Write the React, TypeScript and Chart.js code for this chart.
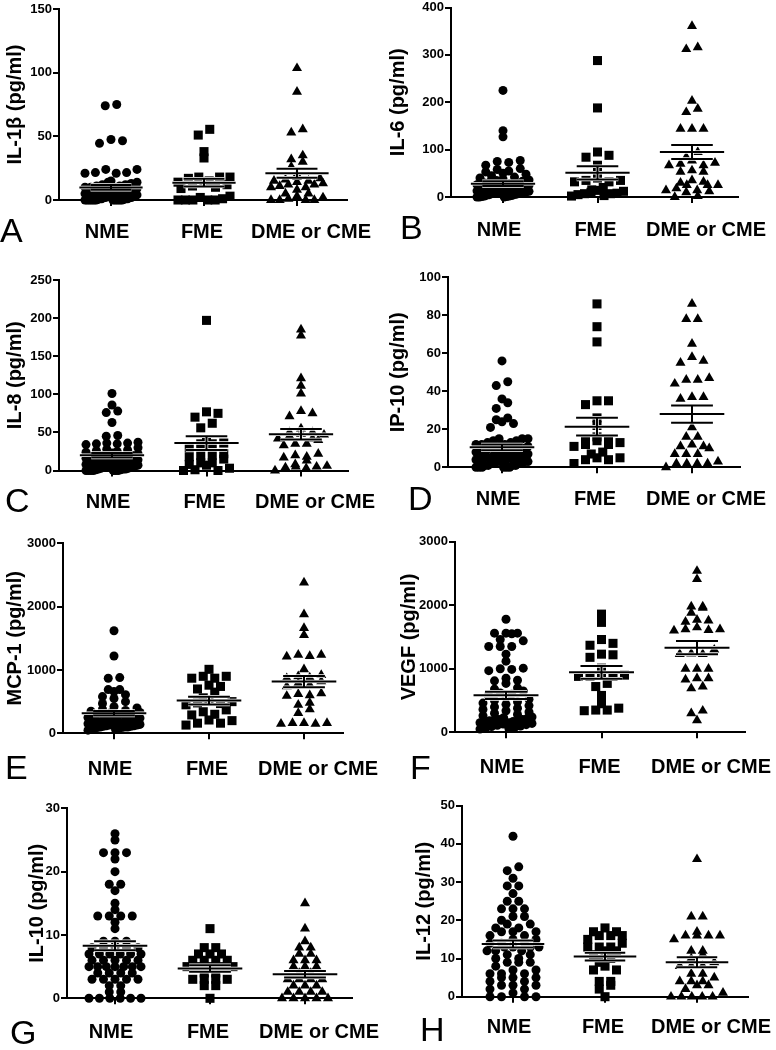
import React, { useEffect, useRef } from 'react';
import { Chart, registerables } from 'chart.js';

Chart.register(...registerables);
Chart.defaults.font.family = '"Liberation Sans", Arial, sans-serif';

// ---------- data ----------
const categories = ['NME', 'FME', 'DME or CME'];
const panelLetters = ['A', 'B', 'C', 'D', 'E', 'F', 'G', 'H'];
const yTitles = ['IL-1β (pg/ml)', 'IL-6 (pg/ml)', 'IL-8 (pg/ml)', 'IP-10 (pg/ml)', 'MCP-1 (pg/ml)', 'VEGF (pg/ml)', 'IL-10 (pg/ml)', 'IL-12 (pg/ml)'];
const yMaxes = [150, 400, 250, 100, 3000, 3000, 30, 50];
const yTickSteps = [50, 100, 50, 20, 1000, 1000, 10, 10];

const il1bNME = [75, 74, 47.5, 46.5, 44.5, 24, 24, 21.5, 21, 21, 21.5, 15, 14, 14, 13, 12, 12, 11, 11, 10, 10, 10, 9, 9, 8, 8, 8, 7, 7, 6, 6, 6, 5, 5, 5, 4, 4, 4, 3, 3, 3, 2, 2, 2, 2, 1, 1, 1, 1, 0.5, 0.5, 0, 0, 0, 0, 0, 0, 0, 0, 0, 0, 0, 0, 0];
const il1bFME = [55.5, 51, 38, 33, 18, 18, 18, 17, 15, 14, 13, 12, 11, 10, 9, 3, 2, 1, 0, 0, 0, 0, 0];
const il1bDME = [103.5, 85, 55.5, 53, 35, 32, 30, 26, 20, 18, 17, 16, 15, 15, 14, 13, 12, 12, 11, 10, 10, 8, 5, 5, 3, 2, 1, 0, 0, 0, 0];
const il1bMean = [9.9, 13.6, 21];
const il1bSem = [1.8, 3, 3.5];

const il6NME = [225, 140, 127, 77, 75, 73, 67, 60, 58, 55, 53, 50, 48, 45, 42, 40, 38, 36, 35, 33, 32, 30, 30, 28, 26, 25, 24, 22, 21, 20, 20, 19, 18, 17, 16, 15, 15, 14, 13, 12, 12, 11, 10, 10, 10, 9, 8, 8, 7, 6, 5, 5, 4, 3, 2, 2, 1, 1, 0, 0, 0];
const il6FME = [288, 188, 95, 88, 84, 67, 53, 40, 35, 35, 32, 32, 20, 15, 14, 12, 10, 8, 7, 7, 5, 3, 2];
const il6DME = [361, 316, 312, 203, 186, 179, 144, 144, 144, 95, 84, 77, 72, 70, 67, 67, 56, 53, 53, 35, 32, 30, 25, 25, 25, 18, 14, 14, 12, 10, 2, 0];
const il6Mean = [28, 51, 95];
const il6Sem = [5, 14, 15];

const il8NME = [101, 86, 78, 76, 63, 46, 45, 37, 36, 36, 35, 35, 34, 30, 28, 27, 26, 25, 24, 23, 22, 21, 20, 20, 19, 18, 17, 16, 15, 14, 13, 12, 12, 11, 10, 10, 9, 8, 8, 7, 6, 6, 6, 5, 5, 4, 4, 3, 3, 2, 2, 2, 1, 1, 0, 0, 0, 0, 0, 0, 0];
const il8FME = [197, 77, 75, 70, 62, 56, 38, 36, 35, 35, 30, 22, 20, 20, 18, 15, 10, 10, 8, 7, 3, 1, 0, 0];
const il8DME = [185, 177, 121, 111, 101, 78, 75, 71, 55, 50, 50, 48, 47, 45, 42, 42, 40, 35, 35, 33, 22, 20, 18, 17, 13, 8, 6, 5, 5, 4, 3, 0];
const il8Mean = [20, 36, 47.6];
const il8Sem = [3, 9, 7];

const ip10NME = [56, 45, 43, 36, 34, 31, 26, 25, 24, 23, 21, 15, 15, 15, 14, 14, 13, 13, 12, 12, 12, 11, 11, 10, 10, 10, 9, 9, 9, 8, 8, 8, 7, 7, 7, 6, 6, 6, 5, 5, 5, 5, 4, 4, 4, 3, 3, 3, 3, 2, 2, 2, 2, 1, 1, 1, 1, 0, 0, 0, 0, 0, 0];
const ip10FME = [86, 74, 66, 35, 35, 33, 26, 22, 16, 15, 15, 14, 13, 12, 12, 11, 8, 7, 5, 5, 4, 4, 2];
const ip10DME = [86, 78, 78, 65, 58, 55, 56, 47, 46, 44, 46, 37, 36, 37, 21, 16, 16, 12, 11, 10, 11, 7, 7, 7, 3, 2, 2, 2, 2, 0];
const ip10Mean = [10.5, 21.4, 28];
const ip10Sem = [1.5, 4.7, 4.5];

const mcp1NME = [1620, 1220, 870, 880, 690, 660, 690, 610, 580, 550, 500, 470, 420, 400, 380, 360, 350, 330, 320, 300, 290, 280, 270, 260, 250, 240, 230, 220, 210, 200, 200, 190, 180, 180, 170, 160, 160, 150, 150, 140, 140, 130, 130, 120, 120, 110, 110, 100, 100, 100, 90, 90, 80, 80, 70, 60, 50];
const mcp1FME = [1010, 900, 870, 870, 900, 740, 760, 700, 650, 560, 520, 500, 480, 470, 450, 370, 340, 290, 300, 210, 160, 130, 160, 200];
const mcp1DME = [2380, 1880, 1660, 1550, 1240, 1220, 1210, 1240, 1010, 920, 870, 900, 880, 760, 820, 740, 790, 620, 630, 590, 600, 450, 480, 380, 320, 160, 150, 160, 150, 160];
const mcp1Mean = [316, 516, 816];
const mcp1Sem = [35, 63, 90];

const vegfNME = [1780, 1560, 1560, 1560, 1550, 1460, 1440, 1350, 1350, 1350, 1230, 1120, 1010, 970, 990, 1000, 770, 820, 850, 810, 700, 680, 650, 620, 600, 580, 550, 520, 500, 480, 460, 440, 420, 400, 380, 360, 340, 320, 300, 280, 260, 240, 230, 220, 200, 200, 190, 180, 180, 170, 160, 150, 150, 140, 130, 120, 110, 100, 90, 80, 70, 60, 50];
const vegfFME = [1860, 1730, 1460, 1400, 1370, 1220, 1230, 1180, 1010, 940, 900, 880, 880, 880, 770, 720, 580, 450, 350, 340, 350, 380];
const vegfDME = [2540, 2410, 1980, 1980, 1960, 1880, 1770, 1760, 1740, 1620, 1610, 1600, 1620, 1650, 1230, 1240, 1300, 1230, 1000, 1000, 1000, 850, 850, 830, 720, 690, 340, 300, 190];
const vegfMean = [582, 944, 1332];
const vegfSem = [58, 100, 105];

const il10NME = [26, 25, 23, 23, 23, 22, 20, 18, 18, 17, 15, 14, 13, 13, 13, 13, 12, 11, 9, 9, 9, 8, 8, 8, 8, 8, 7, 7, 7, 7, 7, 7, 6, 6, 6, 6, 6, 5, 5, 5, 5, 5, 5, 5, 4, 4, 4, 4, 3, 3, 3, 3, 3, 2, 2, 1, 1, 0, 0, 0, 0, 0, 0];
const il10FME = [11, 8, 8, 7, 7, 7, 6, 6, 6, 6, 5, 5, 5, 5, 5, 4, 4, 3, 3, 3, 3, 2, 2, 0];
const il10DME = [15, 11, 9, 8, 8, 7, 7, 6, 6, 6, 5, 5, 5, 4, 4, 3, 3, 3, 3, 2, 2, 2, 1, 1, 1, 1, 0, 0, 0, 0, 0];
const il10Mean = [8.3, 4.7, 3.8];
const il10Sem = [0.7, 0.5, 0.5];

const il12NME = [42, 34, 33, 31, 29, 29, 27, 25, 25, 23, 23, 23, 21, 21, 20, 19, 19, 18, 18, 17, 17, 17, 16, 16, 15, 15, 14, 14, 14, 13, 13, 13, 13, 12, 12, 12, 11, 11, 10, 10, 9, 9, 9, 8, 7, 7, 6, 6, 6, 5, 5, 5, 4, 4, 3, 3, 3, 2, 2, 1, 0, 0, 0, 0];
const il12FME = [18, 17, 17, 16, 16, 16, 15, 14, 13, 13, 13, 12, 12, 11, 10, 9, 8, 7, 7, 4, 4, 3, 2, 0];
const il12DME = [36, 21, 21, 17, 16, 16, 16, 16, 15, 12, 12, 11, 10, 9, 8, 8, 8, 6, 6, 5, 4, 4, 4, 3, 3, 2, 1, 0, 0, 0, 0, 0];
const il12Mean = [13.8, 10.5, 9.0];
const il12Sem = [0.9, 1.0, 1.3];

const panelGroups = [
  [il1bNME, il1bFME, il1bDME],
  [il6NME, il6FME, il6DME],
  [il8NME, il8FME, il8DME],
  [ip10NME, ip10FME, ip10DME],
  [mcp1NME, mcp1FME, mcp1DME],
  [vegfNME, vegfFME, vegfDME],
  [il10NME, il10FME, il10DME],
  [il12NME, il12FME, il12DME],
];
const panelMeans = [il1bMean, il6Mean, il8Mean, ip10Mean, mcp1Mean, vegfMean, il10Mean, il12Mean];
const panelSems = [il1bSem, il6Sem, il8Sem, ip10Sem, mcp1Sem, vegfSem, il10Sem, il12Sem];

// ---------- layout (page pixel positions) ----------
const layouts = [
  { L: 0, T: 0, H: 255, axisX: 59, right: 347, cat1: 111, cat3: 297, yTop: 9, y0: 200, labelY: 232, letterX: 0, letterY: 233, titleX: 15.5 },
  { L: 388, T: 0, H: 255, axisX: 451, right: 738, cat1: 503, cat3: 692, yTop: 7, y0: 197, labelY: 230, letterX: 400, letterY: 230, titleX: 398 },
  { L: 0, T: 255, H: 265, axisX: 59, right: 348, cat1: 112, cat3: 301, yTop: 280, y0: 470.5, labelY: 502.5, letterX: 5, letterY: 503, titleX: 15.5 },
  { L: 388, T: 255, H: 265, axisX: 448, right: 740, cat1: 502, cat3: 692, yTop: 277.3, y0: 467.3, labelY: 499.5, letterX: 408, letterY: 501, titleX: 398 },
  { L: 0, T: 520, H: 265, axisX: 63, right: 343, cat1: 114, cat3: 304, yTop: 543.3, y0: 733.3, labelY: 769.5, letterX: 5, letterY: 770, titleX: 15 },
  { L: 388, T: 520, H: 265, axisX: 455, right: 745, cat1: 506, cat3: 697, yTop: 541.7, y0: 732.3, labelY: 767.5, letterX: 410, letterY: 770, titleX: 409.5 },
  { L: 0, T: 785, H: 265, axisX: 67, right: 352, cat1: 115, cat3: 305, yTop: 808.3, y0: 998.3, labelY: 1032.5, letterX: 10, letterY: 1035, titleX: 37 },
  { L: 388, T: 785, H: 265, axisX: 462, right: 748, cat1: 513, cat3: 697, yTop: 805.7, y0: 996.7, labelY: 1027.5, letterX: 420, letterY: 1032, titleX: 424.5 },
];
const labelShifts = [-4, -2, 14];
const pointStyles = ['circle', 'rect', 'triangle'];
const pointRadii = [4.5, 6.4, 5.8];
const CANVAS_W = 388;

// arrange values of one group in horizontal rows (scatter dot-plot layout)
function swarm(values: number[], center: number, pxPerX: number, pxPerY: number) {
  const sorted = [...values].sort((a, b) => a - b);
  const pts: { x: number; y: number }[] = [];
  const binPx = 6;
  const stepPx = 11.5;
  const maxSpanPx = 52;
  let i = 0;
  while (i < sorted.length) {
    let j = i;
    while (j < sorted.length && (sorted[j] - sorted[i]) * pxPerY <= binPx) j++;
    const row = sorted.slice(i, j);
    const n = row.length;
    const step = n > 1 ? Math.min(stepPx, maxSpanPx / (n - 1)) : 0;
    const order: number[] = [];
    for (let k = 0; k < n; k += 2) order.push(k);
    for (let k = 1; k < n; k += 2) order.push(k);
    order.forEach((vIdx, pos) => {
      pts.push({ x: center + ((pos - (n - 1) / 2) * step) / pxPerX, y: row[vIdx] });
    });
    i = j;
  }
  return pts;
}

function Panel({ idx }: { idx: number }) {
  const ref = useRef<HTMLCanvasElement>(null);
  const lay = layouts[idx];

  useEffect(() => {
    if (!ref.current) return;
    const sp = (lay.cat3 - lay.cat1) / 2;
    const xMin = 1 - (lay.cat1 - lay.axisX) / sp;
    const xMax = 3 + (lay.right - lay.cat3) / sp;
    const yMax = yMaxes[idx];
    const pxPerY = (lay.y0 - lay.yTop) / yMax;
    const means = panelMeans[idx];
    const sems = panelSems[idx];

    const datasets = panelGroups[idx].map((vals, g) => ({
      label: categories[g],
      data: swarm(vals, g + 1, sp, pxPerY),
      pointStyle: pointStyles[g],
      pointRadius: pointRadii[g],
      backgroundColor: '#000',
      borderColor: '#000',
      borderWidth: 0,
      clip: false as any,
      showLine: false,
    }));

    const overlay = {
      id: 'overlay' + idx,
      afterDatasetsDraw(chart: any) {
        const { ctx, scales } = chart;
        const x = scales.x;
        const y = scales.y;
        const hline = (v: number, cx: number, hw: number) => {
          ctx.beginPath();
          ctx.moveTo(x.getPixelForValue(cx - hw), y.getPixelForValue(v));
          ctx.lineTo(x.getPixelForValue(cx + hw), y.getPixelForValue(v));
          ctx.stroke();
        };
        const vline = (cx: number, a: number, b: number) => {
          ctx.beginPath();
          ctx.moveTo(x.getPixelForValue(cx), y.getPixelForValue(a));
          ctx.lineTo(x.getPixelForValue(cx), y.getPixelForValue(b));
          ctx.stroke();
        };
        ctx.save();
        ctx.lineCap = 'butt';
        [['#fff', 3.5], ['#000', 2]].forEach(([col, w]) => {
          ctx.strokeStyle = col as string;
          ctx.lineWidth = w as number;
          means.forEach((m, g) => {
            const cx = g + 1;
            const s = sems[g];
            hline(m, cx, 0.34);
            hline(m + s, cx, 0.22);
            hline(m - s, cx, 0.22);
            vline(cx, m - s, m + s);
          });
        });
        ctx.restore();
      },
      afterDraw(chart: any) {
        const { ctx, scales } = chart;
        const x = scales.x;
        ctx.save();
        ctx.fillStyle = '#000';
        ctx.textBaseline = 'middle';
        ctx.textAlign = 'center';
        ctx.font = 'bold 20px "Liberation Sans", Arial, sans-serif';
        categories.forEach((c, g) => {
          ctx.fillText(c, x.getPixelForValue(g + 1) + labelShifts[g], lay.labelY - lay.T);
        });
        ctx.textAlign = 'left';
        ctx.font = '34px "Liberation Sans", Arial, sans-serif';
        ctx.fillText(panelLetters[idx], lay.letterX - lay.L, lay.letterY - lay.T);
        ctx.restore();
      },
    };

    const chart = new Chart(ref.current, {
      type: 'scatter',
      data: { datasets },
      options: {
        responsive: false,
        animation: false,
        events: [],
        layout: {
          padding: {
            left: 0,
            right: lay.L + CANVAS_W - lay.right,
            top: lay.yTop - lay.T,
            bottom: lay.H - (lay.y0 - lay.T) - 30,
          },
        },
        plugins: { legend: { display: false }, tooltip: { enabled: false } },
        scales: {
          x: {
            type: 'linear',
            min: xMin,
            max: xMax,
            afterBuildTicks: (s: any) => {
              s.ticks = [{ value: 1 }, { value: 2 }, { value: 3 }];
            },
            afterFit: (s: any) => {
              s.height = 30;
            },
            ticks: { display: false },
            grid: { drawOnChartArea: false, drawTicks: true, tickLength: 6, color: '#000', lineWidth: 2 },
            border: { display: true, color: '#000', width: 2 },
          },
          y: {
            type: 'linear',
            min: 0,
            max: yMax,
            afterFit: (s: any) => {
              s.width = lay.axisX - lay.L;
            },
            ticks: {
              stepSize: yTickSteps[idx],
              color: '#000',
              padding: 1,
              font: { size: 13, weight: 'bold', lineHeight: 1 },
              callback: (v: any) => String(v),
            },
            grid: { drawOnChartArea: false, drawTicks: true, tickLength: 6, color: '#000', lineWidth: 2 },
            border: { display: true, color: '#000', width: 2 },
            title: {
              display: true,
              text: yTitles[idx],
              color: '#000',
              font: { size: 20, weight: 'bold', lineHeight: 1.2 },
              padding: { top: lay.titleX - lay.L - 12, bottom: 0 },
            },
          },
        },
      } as any,
      plugins: [overlay],
    });
    return () => chart.destroy();
  }, [idx]);

  return (
    <canvas
      ref={ref}
      width={CANVAS_W}
      height={lay.H}
      style={{ position: 'absolute', left: lay.L, top: lay.T, width: CANVAS_W, height: lay.H }}
    />
  );
}

export default function App() {
  return (
    <div style={{ position: 'absolute', left: 0, top: 0, width: 776, height: 1050, background: '#fff', overflow: 'hidden' }}>
      {layouts.map((_, i) => (
        <Panel key={i} idx={i} />
      ))}
    </div>
  );
}
